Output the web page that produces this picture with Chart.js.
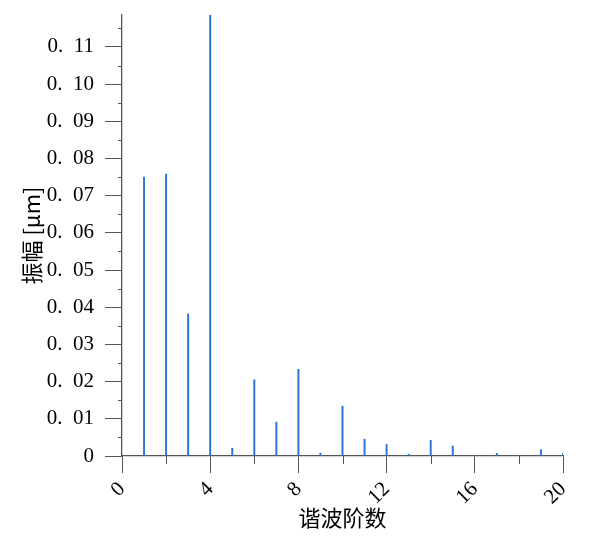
<!DOCTYPE html>
<html>
<head>
<meta charset="utf-8">
<script src="https://cdn.jsdelivr.net/npm/chart.js@4/dist/chart.umd.min.js"></script>
<style>
  html, body { margin: 0; padding: 0; background: #fff; }
  #wrap { width: 604px; height: 551px; }
</style>
</head>
<body>
<div id="wrap"><canvas id="chart"></canvas></div>
<script>
// данные: гармоники и амплитуды
const harmonics = [1, 2, 3, 4, 5, 6, 7, 8, 9, 10, 11, 12, 13, 14, 15, 16, 17, 18, 19, 20];
const amplitudes = [0.0750, 0.0758, 0.0382, 0.1186, 0.0021, 0.0205, 0.0091, 0.0233, 0.0008, 0.0134,
                    0.0045, 0.0031, 0.0005, 0.0042, 0.0027, 0, 0.0007, 0, 0.0017, 0.0007];
const xTicks = [0, 4, 8, 12, 16, 20];
const xMinor = [2, 6, 10, 14, 18];
const yTicks = [0, 0.01, 0.02, 0.03, 0.04, 0.05, 0.06, 0.07, 0.08, 0.09, 0.10, 0.11];
const yMinor = [0.005, 0.015, 0.025, 0.035, 0.045, 0.055, 0.065, 0.075, 0.085, 0.095, 0.105, 0.115];
const yMax = 0.1186;

const axisColor = '#555';
const numFont = { family: 'Liberation Serif', size: 21 };
const cjkFont = { family: 'Noto Sans CJK SC', size: 22 };

// мелкие засечки
const minorTicks = {
  id: 'minorTicks',
  afterDraw(chart) {
    const ctx = chart.ctx;
    const x = chart.scales.x, y = chart.scales.y;
    ctx.save();
    ctx.strokeStyle = axisColor;
    ctx.lineWidth = 1;
    ctx.beginPath();
    yMinor.forEach(v => {
      const py = Math.round(y.getPixelForValue(v)) + 0.5;
      ctx.moveTo(x.left - 4, py);
      ctx.lineTo(x.left, py);
    });
    xMinor.forEach(v => {
      const px = Math.round(x.getPixelForValue(v)) + 0.5;
      ctx.moveTo(px, y.bottom);
      ctx.lineTo(px, y.bottom + 8);
    });
    ctx.stroke();
    ctx.restore();
  }
};

new Chart(document.getElementById('chart'), {
  type: 'bar',
  data: {
    datasets: [{
      data: harmonics.map((h, i) => ({ x: h, y: amplitudes[i] })),
      backgroundColor: '#2a74d8',
      barThickness: 1.3
    }]
  },
  options: {
    responsive: true,
    maintainAspectRatio: false,
    animation: false,
    layout: { padding: { left: 0, top: 15, right: 41, bottom: 0 } },
    plugins: { legend: { display: false }, tooltip: { enabled: false } },
    scales: {
      x: {
        type: 'linear',
        min: 0, max: 20,
        offset: false,
        afterFit: s => { s.height = 95; s.paddingLeft = 0; s.paddingRight = 0; },
        afterBuildTicks: s => { s.ticks = xTicks.map(v => ({ value: v })); },
        ticks: {
          font: numFont, color: '#000',
          minRotation: 45, maxRotation: 45,
          padding: 4,
          callback: v => String(v)
        },
        grid: { drawOnChartArea: false, drawTicks: true, tickLength: 17, tickColor: axisColor, offset: false },
        border: { color: axisColor, width: 1.3 },
        title: { display: true, text: '谐波阶数', font: cjkFont, color: '#000', padding: { top: 0, bottom: 20 } }
      },
      y: {
        min: 0, max: yMax,
        afterFit: s => { s.width = 122; s.paddingTop = 0; s.paddingBottom = 0; },
        afterBuildTicks: s => { s.ticks = yTicks.map(v => ({ value: v })); },
        ticks: {
          font: numFont, color: '#000',
          padding: 11,
          callback: v => v === 0 ? '0' : v.toFixed(2).replace('.', '.\u2002')
        },
        grid: { drawOnChartArea: false, drawTicks: true, tickLength: 17, tickColor: axisColor },
        border: { color: axisColor, width: 1.3 },
        title: { display: true, text: '振幅 [μm]', font: cjkFont, color: '#000', padding: { top: 18, bottom: 0 } }
      }
    }
  },
  plugins: [minorTicks]
});
</script>
</body>
</html>
